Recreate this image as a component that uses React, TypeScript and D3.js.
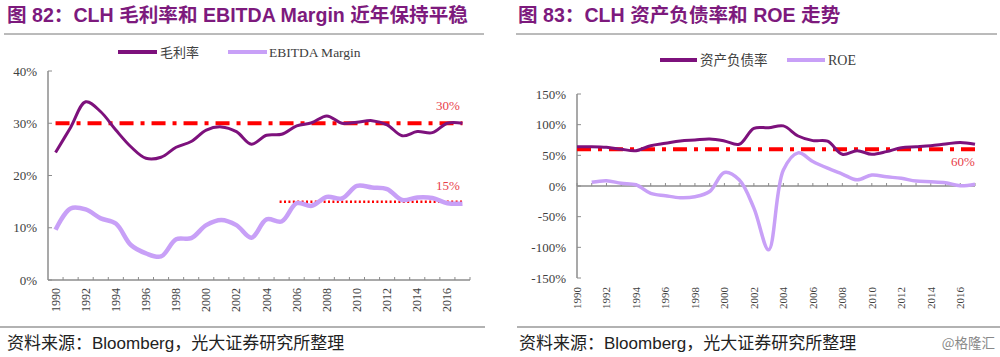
import React from "react";
import * as d3 from "d3";

const years = d3.range(1990, 2018).map(String);
const xTickLabels = d3.range(1990, 2017, 2).map(String);

const grossMargin = [24.4, 29.2, 34.1, 32.2, 28.7, 25.5, 23.3, 23.5, 25.4, 26.5, 28.7, 29.3, 28.4, 26.0, 27.7, 27.9, 29.5, 30.1, 31.4, 30.0, 30.2, 30.5, 29.7, 27.6, 28.4, 28.2, 30.0, 30.0];
const ebitdaMargin = [9.6, 13.7, 13.5, 11.8, 10.8, 6.7, 5.1, 4.5, 7.8, 8.0, 10.5, 11.5, 10.5, 8.1, 11.6, 11.2, 14.7, 14.2, 15.9, 15.6, 18.0, 17.7, 17.4, 15.3, 15.8, 15.7, 14.7, 14.6];
const debtRatio = [64, 64, 63, 60, 57.6, 65.7, 69.6, 73.4, 75, 76.6, 73.4, 68, 94, 95, 98, 81.5, 74, 73, 51.7, 57.6, 51.7, 56, 62.5, 64, 65.7, 68.5, 71, 68];
const roe: (number | null)[] = [null, 6, 8.7, 4.4, 2, -12, -15.8, -19, -17.4, -9, 22, 10, -36, -104, 26, 54, 40, 29, 19.5, 10, 18, 15, 12.5, 8, 7, 5.4, 0.5, 3];

const leftYTicks = [0, 10, 20, 30, 40];
const rightYTicks = [-150, -100, -50, 0, 50, 100, 150];

const DARK = "#7d117c";
const LIGHT = "#c8a0f7";
const RED = "#ff0000";
const LABEL_RED = "#e8404a";
const AXIS = "#8c8c8c";
const TEXT = "#404040";
const TITLE = "#7d1a7d";
const SERIF = "'Liberation Serif', 'DejaVu Serif', 'Noto Sans CJK SC', serif";
const CJK = "'Noto Sans CJK SC', sans-serif";
const TITLE_FONT = "'Liberation Sans', Arial, 'Noto Sans CJK SC', sans-serif";

export default function App() {
  // Left chart scales
  const xL = d3.scaleBand<string>().domain(years).range([48, 470]);
  const bw = xL.bandwidth();
  const cx = (y: string) => (xL(y) as number) + bw / 2;
  const yL = d3.scaleLinear().domain([0, 40]).range([280, 71]);

  // Right chart scales
  const xR = d3.scalePoint<string>().domain(years).range([577, 975]);
  const yR = d3.scaleLinear().domain([-150, 150]).range([278, 94]);

  const curve = d3.curveCatmullRom.alpha(0.5);
  const lineL = d3
    .line<number>()
    .x((_, i) => cx(years[i]))
    .y((d) => yL(d))
    .curve(curve);
  const lineR = d3
    .line<number | null>()
    .defined((d) => d !== null)
    .x((_, i) => xR(years[i]) as number)
    .y((d) => yR(d as number))
    .curve(curve);

  const refL30 = yL(30);
  const refL15 = yL(15);
  const refR60 = yR(60);

  return (
    <svg
      width={1000}
      height={357}
      style={{ position: "absolute", left: 0, top: 0, background: "#fff" }}
    >
      <rect x={0} y={0} width={1000} height={357} fill="#fff" />
      {/* Titles */}
      <text x={7} y={22} fontFamily={TITLE_FONT} fontWeight="bold" fontSize={19.6} fill={TITLE}>
        图 82：CLH 毛利率和 EBITDA Margin 近年保持平稳
      </text>
      <text x={518} y={22} fontFamily={TITLE_FONT} fontWeight="bold" fontSize={19.6} fill={TITLE}>
        图 83：CLH 资产负债率和 ROE 走势
      </text>
      <line x1={4} x2={484} y1={34} y2={34} stroke="#777" strokeWidth={1} />
      <line x1={516} x2={997} y1={34} y2={34} stroke="#777" strokeWidth={1} />

      {/* Left legend */}
      <line x1={118} x2={157} y1={52} y2={52} stroke={DARK} strokeWidth={4} />
      <text x={160} y={56.5} fontFamily={SERIF} fontSize={13} fill={TEXT}>毛利率</text>
      <line x1={228} x2={267} y1={52} y2={52} stroke={LIGHT} strokeWidth={4} />
      <text x={269} y={56.5} fontFamily={SERIF} fontSize={13.5} fill={TEXT}>EBITDA Margin</text>

      {/* Left axes */}
      <line x1={48} x2={48} y1={71} y2={280} stroke={AXIS} strokeWidth={1.5} />
      {leftYTicks.map((t) => (
        <g key={"ly" + t}>
          <line x1={48} x2={52} y1={yL(t)} y2={yL(t)} stroke={AXIS} strokeWidth={1} />
          <text x={37} y={yL(t) + 4.5} textAnchor="end" fontFamily={SERIF} fontSize={13} fill={TEXT}>
            {t}%
          </text>
        </g>
      ))}
      <line x1={48} x2={470} y1={280} y2={280} stroke={AXIS} strokeWidth={1.5} />
      {years.map((y) => {
        const bx = (xL(y) as number) + bw;
        return <line key={"lx" + y} x1={bx} x2={bx} y1={280} y2={277} stroke={AXIS} strokeWidth={1} />;
      })}
      {xTickLabels.map((y) => (
        <text
          key={"lxl" + y}
          transform={`translate(${cx(y) + 4},288) rotate(-90)`}
          textAnchor="end"
          fontFamily={SERIF}
          fontSize={12}
          fill={TEXT}
        >
          {y}
        </text>
      ))}

      {/* Left reference lines */}
      <line x1={cx("1990")} x2={cx("2017")} y1={refL30} y2={refL30} stroke={RED} strokeWidth={4} strokeDasharray="14,7,4,7" />
      <line x1={cx("2005") - 2} x2={cx("2017")} y1={refL15} y2={refL15} stroke={RED} strokeWidth={2.5} strokeDasharray="2,2.4" />

      {/* Left series */}
      <path d={lineL(ebitdaMargin) || ""} fill="none" stroke={LIGHT} strokeWidth={4.5} />
      <path d={lineL(grossMargin) || ""} fill="none" stroke={DARK} strokeWidth={3} />

      <text x={448} y={109.5} textAnchor="middle" fontFamily={SERIF} fontSize={13} fill={LABEL_RED}>30%</text>
      <text x={448} y={190} textAnchor="middle" fontFamily={SERIF} fontSize={13} fill={LABEL_RED}>15%</text>

      {/* Right legend */}
      <line x1={660} x2={697} y1={60} y2={60} stroke={DARK} strokeWidth={4} />
      <text x={700} y={64.5} fontFamily={SERIF} fontSize={13.5} fill={TEXT}>资产负债率</text>
      <line x1={787} x2={825} y1={60} y2={60} stroke={LIGHT} strokeWidth={4} />
      <text x={828} y={64.5} fontFamily={SERIF} fontSize={14} fill={TEXT}>ROE</text>

      {/* Right axes */}
      <line x1={577} x2={577} y1={94} y2={278} stroke={AXIS} strokeWidth={1.5} />
      {rightYTicks.map((t) => (
        <g key={"ry" + t}>
          <line x1={577} x2={581} y1={yR(t)} y2={yR(t)} stroke={AXIS} strokeWidth={1} />
          <text x={566} y={yR(t) + 4.5} textAnchor="end" fontFamily={SERIF} fontSize={13} fill={TEXT}>
            {t}%
          </text>
        </g>
      ))}
      <line x1={577} x2={975} y1={yR(0)} y2={yR(0)} stroke={AXIS} strokeWidth={1.5} />
      {years.map((y) => {
        const px = xR(y) as number;
        return <line key={"rx" + y} x1={px} x2={px} y1={yR(0)} y2={yR(0) - 3} stroke={AXIS} strokeWidth={1} />;
      })}
      {xTickLabels.map((y) => (
        <text
          key={"rxl" + y}
          transform={`translate(${(xR(y) as number) + 4},287) rotate(-90)`}
          textAnchor="end"
          fontFamily={SERIF}
          fontSize={11}
          fill={TEXT}
        >
          {y}
        </text>
      ))}

      {/* Right reference line */}
      <line x1={577} x2={975} y1={refR60} y2={refR60} stroke={RED} strokeWidth={4} strokeDasharray="14,7,4,7" />

      {/* Right series */}
      <path d={lineR(roe) || ""} fill="none" stroke={LIGHT} strokeWidth={3.5} />
      <path d={lineR(debtRatio) || ""} fill="none" stroke={DARK} strokeWidth={3} />

      <text x={963} y={166} textAnchor="middle" fontFamily={SERIF} fontSize={13} fill={LABEL_RED}>60%</text>

      {/* Footer */}
      <line x1={0} x2={485} y1={327} y2={327} stroke="#999" strokeWidth={1.5} />
      <line x1={517} x2={1000} y1={327} y2={327} stroke="#999" strokeWidth={1.5} />
      <text x={7} y={349} fontFamily={CJK} fontSize={17} fill="#222">
        资料来源：<tspan fontFamily={TITLE_FONT}>Bloomberg</tspan>，光大证券研究所整理
      </text>
      <text x={519} y={349} fontFamily={CJK} fontSize={17} fill="#222">
        资料来源：<tspan fontFamily={TITLE_FONT}>Bloomberg</tspan>，光大证券研究所整理
      </text>
      <text x={995} y={348} textAnchor="end" fontFamily={CJK} fontSize={13.5} fill="#888">@格隆汇</text>
    </svg>
  );
}
